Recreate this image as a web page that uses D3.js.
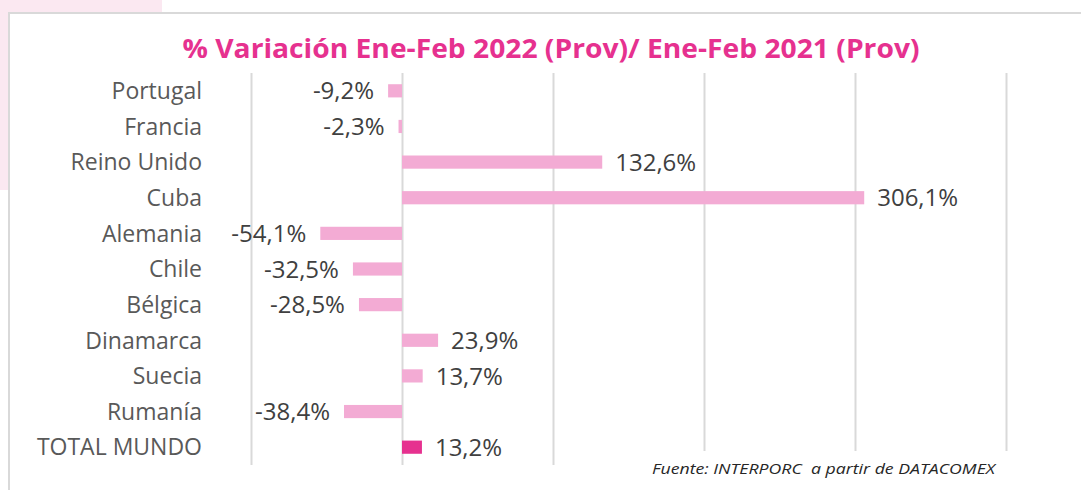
<!DOCTYPE html>
<html>
<head>
<meta charset="utf-8">
<script src="https://cdn.jsdelivr.net/npm/d3@7"></script>
<style>
  html, body { margin: 0; padding: 0; background: #ffffff; }
  svg { display: block; }
</style>
</head>
<body>
<svg id="chart" width="1081" height="490"></svg>
<script>
// Export variation by destination, Jan-Feb 2022 vs Jan-Feb 2021 (%)
const categories = ["Portugal", "Francia", "Reino Unido", "Cuba", "Alemania", "Chile",
                    "Bélgica", "Dinamarca", "Suecia", "Rumanía", "TOTAL MUNDO"];
const values = [-9.2, -2.3, 132.6, 306.1, -54.1, -32.5, -28.5, 23.9, 13.7, -38.4, 13.2];
const xTicks = [-100, 0, 100, 200, 300, 400];
const titleText = "% Variación Ene-Feb 2022 (Prov)/ Ene-Feb 2021 (Prov)";
const sourceText = "Fuente: INTERPORC  a partir de DATACOMEX";

const W = 1081, H = 490;
const svg = d3.select("#chart");
const labelFont = "'Open Sans', 'DejaVu Sans', sans-serif";

// faint pink backdrop showing at the top-left corner, outside the frame
svg.append("path")
  .attr("d", "M0,0 H162 V13 H9 V190 H0 Z")
  .attr("fill", "#fbe8f1");

// frame
svg.append("path")
  .attr("d", `M9,${H} V13 H${W}`)
  .attr("fill", "none")
  .attr("stroke", "#d9d9d9")
  .attr("stroke-width", 2);

const x = d3.scaleLinear().domain([-100, 400]).range([251, 1006]);
const y = d3.scaleBand().domain(categories).range([73, 465])
  .paddingInner(0.63).paddingOuter(0.315);

// vertical gridlines
svg.append("g")
  .selectAll("line")
  .data(xTicks)
  .join("line")
  .attr("x1", d => Math.round(x(d)) + 0.5)
  .attr("x2", d => Math.round(x(d)) + 0.5)
  .attr("y1", 73)
  .attr("y2", 465)
  .attr("stroke", "#d9d9d9")
  .attr("stroke-width", 2);

// bars
svg.append("g")
  .selectAll("rect")
  .data(categories.map((c, i) => ({ c, v: values[i] })))
  .join("rect")
  .attr("x", d => x(Math.min(0, d.v)))
  .attr("width", d => Math.abs(x(d.v) - x(0)))
  .attr("y", d => y(d.c))
  .attr("height", y.bandwidth())
  .attr("fill", d => d.c === "TOTAL MUNDO" ? "#e6318f" : "#f3abd4");

// category labels
svg.append("g")
  .selectAll("text")
  .data(categories)
  .join("text")
  .attr("x", 202)
  .attr("y", d => y(d) + y.bandwidth() / 2)
  .attr("dy", "0.36em")
  .attr("text-anchor", "end")
  .attr("font-family", labelFont)
  .attr("font-size", 23)
  .attr("fill", "#595959")
  .text(d => d);

// value labels
const fmt = v => v.toFixed(1).replace(".", ",") + "%";
svg.append("g")
  .selectAll("text")
  .data(categories.map((c, i) => ({ c, v: values[i] })))
  .join("text")
  .attr("x", d => d.v >= 0 ? x(d.v) + 13 : x(d.v) - 14)
  .attr("y", d => y(d.c) + y.bandwidth() / 2)
  .attr("dy", "0.36em")
  .attr("text-anchor", d => d.v >= 0 ? "start" : "end")
  .attr("font-family", labelFont)
  .attr("font-size", 24)
  .attr("fill", "#404040")
  .text(d => fmt(d.v));

// title
svg.append("text")
  .attr("x", 551)
  .attr("y", 58)
  .attr("text-anchor", "middle")
  .attr("font-family", labelFont)
  .attr("font-weight", "bold")
  .attr("font-size", 27)
  .attr("fill", "#e6318f")
  .attr("textLength", 737)
  .attr("lengthAdjust", "spacingAndGlyphs")
  .text(titleText);

// source note on a white box over the lower gridlines
svg.append("rect")
  .attr("x", 630).attr("y", 451).attr("width", 390).attr("height", 39)
  .attr("fill", "#ffffff");
svg.append("text")
  .attr("x", 652)
  .attr("y", 474)
  .attr("font-family", labelFont)
  .attr("font-style", "italic")
  .attr("font-size", 15)
  .attr("fill", "#262626")
  .attr("textLength", 343)
  .attr("lengthAdjust", "spacingAndGlyphs")
  .style("white-space", "pre")
  .text(sourceText);
</script>
</body>
</html>
